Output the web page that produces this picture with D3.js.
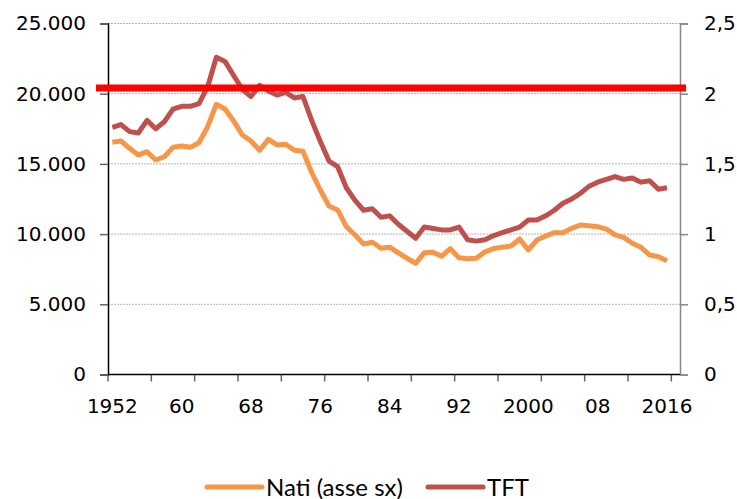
<!DOCTYPE html>
<meta charset="utf-8">
<script src="https://d3js.org/d3.v7.min.js"></script>
<style>
  body { margin: 0; background: #fff; }
</style>
<div id="chart"></div>
<script>

// years on the category axis (2017 only has births)
const years = d3.range(1952, 2018);

// births, left axis
const nati = [
  16540, 16630, 16110, 15630, 15870, 15280, 15510, 16180, 16280, 16180,
  16510, 17650, 19250, 18910, 18060, 17060, 16630, 15970, 16750, 16350,
  16400, 15970, 15900, 14390, 13140, 12000, 11720, 10530, 9940, 9300,
  9420, 8990, 9070, 8660, 8280, 7920, 8680, 8700, 8420, 8960,
  8310, 8240, 8280, 8740, 8970, 9070, 9150, 9650, 8870, 9580,
  9870, 10100, 10100, 10410, 10650, 10600, 10530, 10360, 9940, 9770,
  9350, 9060, 8510, 8390, 8100
];

// fertility rate, right axis (to 2016)
const tft = [
  1.76, 1.78, 1.73, 1.72, 1.81, 1.75, 1.80, 1.89, 1.91, 1.91,
  1.93, 2.05, 2.26, 2.23, 2.13, 2.03, 1.98, 2.06, 2.02, 1.99,
  2.01, 1.97, 1.98, 1.81, 1.66, 1.52, 1.48, 1.33, 1.24, 1.17,
  1.18, 1.12, 1.13, 1.07, 1.02, 0.97, 1.05, 1.04, 1.03, 1.03,
  1.05, 0.96, 0.95, 0.96, 0.99, 1.01, 1.03, 1.05, 1.10, 1.10,
  1.13, 1.17, 1.22, 1.25, 1.29, 1.34, 1.37, 1.39, 1.41, 1.39,
  1.40, 1.37, 1.38, 1.32, 1.33
];

// replacement level line
const soglia = 2.04;

const labelYears = [1952, 1960, 1968, 1976, 1984, 1992, 2000, 2008, 2016];
const labelText = ["1952", "60", "68", "76", "84", "92", "2000", "08", "2016"];
const leftTicks = [0, 5000, 10000, 15000, 20000, 25000];
const rightTicks = [0, 0.5, 1, 1.5, 2, 2.5];

const seriesNames = ["Nati (asse sx)", "TFT"];
const colors = ["#f79646", "#c0504d"];

var W = 737, H = 499;
var mLeft = 108, mRight = 680, mTop = 23.5, mBottom = 374.5;
var axisFont = "'DejaVu Sans', Verdana, sans-serif";

var svg = d3.select("#chart").append("svg")
  .attr("width", W).attr("height", H);

var x = d3.scaleBand().domain(years).range([mLeft, mRight]).padding(0);
var y = d3.scaleLinear().domain([0, 25000]).range([mBottom, mTop]);
var y2 = d3.scaleLinear().domain([0, 2.5]).range([mBottom, mTop]);

var it = d3.formatLocale({decimal: ",", thousands: ".", grouping: [3], currency: ["", "€"]});
var fmtL = it.format(",.0f");
var fmtR = it.format(".1~f");

// gridlines
svg.append("g").selectAll("line")
  .data(leftTicks.filter(d => d > 0))
  .enter().append("line")
  .attr("x1", mLeft).attr("x2", mRight)
  .attr("y1", d => y(d)).attr("y2", d => y(d))
  .attr("stroke", "#b5b5b5")
  .attr("stroke-width", 1)
  .attr("stroke-dasharray", "2,1");

// left axis
var gL = svg.append("g").attr("transform", "translate(" + mLeft + ",0)")
  .call(d3.axisLeft(y).tickValues(leftTicks).tickFormat(fmtL).tickSize(8).tickPadding(14));
gL.select(".domain").attr("stroke", "#000").attr("stroke-width", 1.5);
gL.selectAll(".tick line").attr("stroke", "#666").attr("stroke-width", 1.5);
gL.selectAll("text").attr("font-size", 20).attr("font-family", axisFont).attr("fill", "#000");

// right axis
var gR = svg.append("g").attr("transform", "translate(" + mRight + ",0)")
  .call(d3.axisRight(y2).tickValues(rightTicks).tickFormat(fmtR).tickSize(8).tickPadding(16));
gR.select(".domain").attr("stroke", "#888").attr("stroke-width", 1.5);
gR.selectAll(".tick line").attr("stroke", "#888").attr("stroke-width", 1.5);
gR.selectAll("text").attr("font-size", 20).attr("font-family", axisFont).attr("fill", "#000");

// x axis: labels every 8 years, marks every 5 categories
var gX = svg.append("g").attr("transform", "translate(0," + mBottom + ")")
  .call(d3.axisBottom(x).tickValues(labelYears)
    .tickFormat((d, i) => labelText[i]).tickSize(0).tickPadding(24));
gX.select(".domain").remove();
gX.selectAll("text").attr("font-size", 20).attr("font-family", axisFont).attr("fill", "#000");

var markYears = years.filter((d, i) => i % 5 === 0);
svg.append("g").selectAll("line")
  .data(markYears)
  .enter().append("line")
  .attr("x1", d => x(d)).attr("x2", d => x(d))
  .attr("y1", mBottom).attr("y2", mBottom + 7)
  .attr("stroke", "#666").attr("stroke-width", 1.5);

svg.append("line")
  .attr("x1", mLeft).attr("x2", mRight)
  .attr("y1", mBottom).attr("y2", mBottom)
  .attr("stroke", "#000").attr("stroke-width", 1.5);

// series
var line1 = d3.line()
  .x((d, i) => x(years[i]) + x.bandwidth() / 2)
  .y(d => y(d));
var line2 = d3.line()
  .x((d, i) => x(years[i]) + x.bandwidth() / 2)
  .y(d => y2(d));

svg.append("path")
  .datum(nati)
  .attr("d", line1)
  .attr("fill", "none")
  .attr("stroke", colors[0])
  .attr("stroke-width", 5)
  .attr("stroke-linejoin", "round");

svg.append("path")
  .datum(tft)
  .attr("d", line2)
  .attr("fill", "none")
  .attr("stroke", colors[1])
  .attr("stroke-width", 5)
  .attr("stroke-linejoin", "round");

// red threshold line
svg.append("line")
  .attr("x1", 96).attr("x2", 686)
  .attr("y1", y2(soglia)).attr("y2", y2(soglia))
  .attr("stroke", "#ff0000")
  .attr("stroke-width", 7);

// legend
var leg = svg.append("g").attr("transform", "translate(0,487)");
var legX = [207, 428];
seriesNames.forEach(function(name, i) {
  leg.append("line")
    .attr("x1", legX[i]).attr("x2", legX[i] + 55)
    .attr("y1", 0).attr("y2", 0)
    .attr("stroke", colors[i]).attr("stroke-width", 5)
    .attr("stroke-linecap", "round");
  leg.append("text")
    .attr("x", legX[i] + 59).attr("y", 8.5)
    .attr("font-family", "Lato, 'Open Sans', sans-serif")
    .attr("font-size", 24)
    .attr("fill", "#000")
    .text(name);
});

</script>
